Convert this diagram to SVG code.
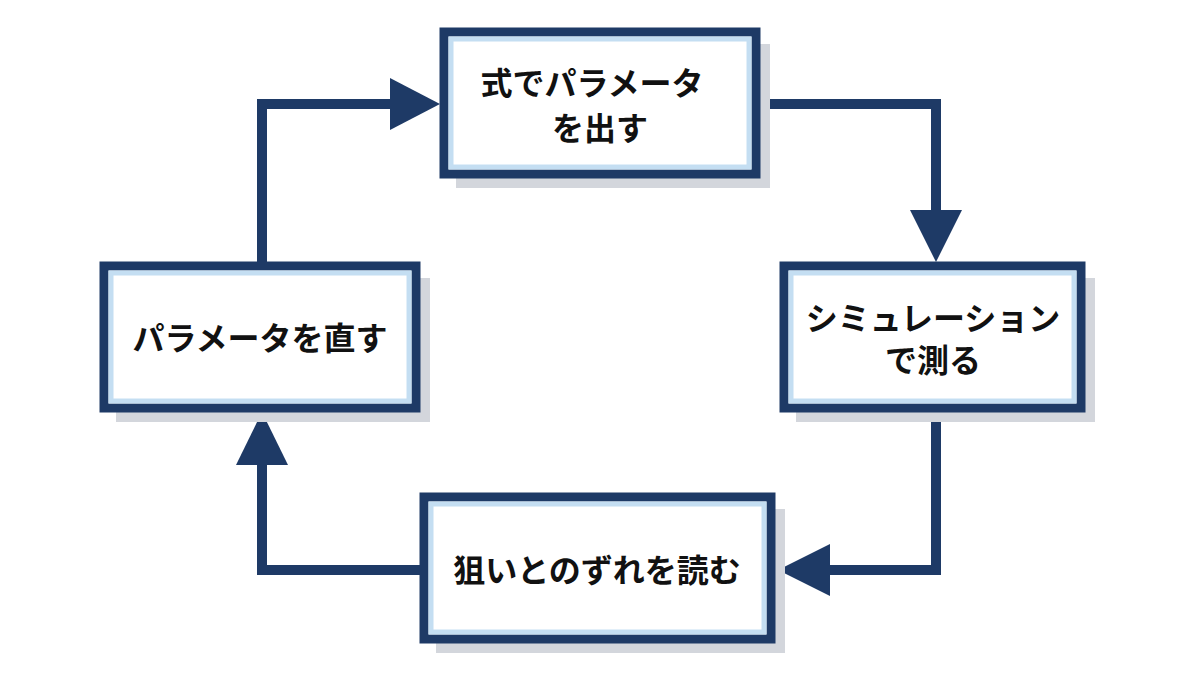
<svg xmlns="http://www.w3.org/2000/svg" width="1200" height="675" viewBox="0 0 1200 675">
<style>
.sh{fill:#d3d6dc}
.bx{fill:#fff;stroke:#1e3a66;stroke-width:9}
.in{fill:none;stroke:#c4def2;stroke-width:5}
.t{font-family:"Noto Sans CJK JP",sans-serif;font-weight:bold;font-size:32px;fill:#111;text-anchor:middle}
.c{fill:none;stroke:#1e3a66;stroke-width:10}
.h{fill:#1e3a66}
</style>
<rect width="1200" height="675" fill="#fff"/>
<g id="connectors">
<polyline class="c" points="262,262 262,104 395,104"/>
<polygon class="h" points="390,78 440,104 390,130"/>
<polyline class="c" points="760,104 936,104 936,215"/>
<polygon class="h" points="910,210 962,210 936,262"/>
<polyline class="c" points="936,412 936,570 825,570"/>
<polygon class="h" points="830,544 830,596 778,570"/>
<polyline class="c" points="420,570 262,570 262,460"/>
<polygon class="h" points="236,465 288,465 262,412"/>
</g>
<g id="n1">
<rect class="sh" x="456" y="44" width="314" height="144"/>
<rect class="bx" x="444" y="32" width="312" height="142"/>
<rect class="in" x="451" y="39" width="298" height="128"/>
<text class="t" x="592" y="95">式でパラメータ</text>
<text class="t" x="600" y="140">を出す</text>
</g>
<g id="n2">
<rect class="sh" x="796" y="278" width="299" height="144"/>
<rect class="bx" x="784" y="266" width="297" height="142"/>
<rect class="in" x="791" y="273" width="283" height="128"/>
<text class="t" x="933" y="330">シミュレーション</text>
<text class="t" x="933" y="372">で測る</text>
</g>
<g id="n3">
<rect class="sh" x="436" y="509" width="349" height="144"/>
<rect class="bx" x="424" y="497" width="347" height="142"/>
<rect class="in" x="431" y="504" width="333" height="128"/>
<text class="t" x="597" y="582">狙いとのずれを読む</text>
</g>
<g id="n4">
<rect class="sh" x="116" y="278" width="314" height="144"/>
<rect class="bx" x="104" y="266" width="312" height="142"/>
<rect class="in" x="111" y="273" width="298" height="128"/>
<text class="t" x="260" y="350">パラメータを直す</text>
</g>
</svg>
